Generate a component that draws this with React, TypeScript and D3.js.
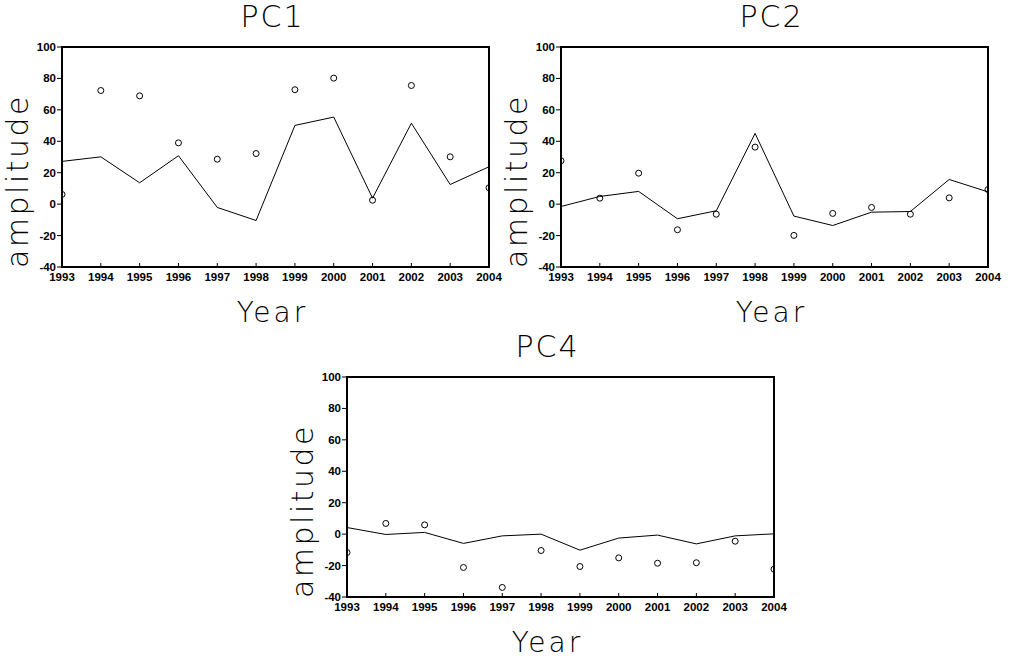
import React from "react";
import * as d3 from "d3";

const years = [1993, 1994, 1995, 1996, 1997, 1998, 1999, 2000, 2001, 2002, 2003, 2004];
const yTicks = [-40, -20, 0, 20, 40, 60, 80, 100];

const pc1Line = [27.2, 30.1, 13.6, 30.8, -2.1, -10.4, 50.1, 55.4, 3.8, 51.5, 12.5, 23.8];
const pc1Dots = [6.2, 72.3, 68.9, 39.0, 28.6, 32.2, 72.8, 80.2, 2.5, 75.5, 30.1, 10.4];

const pc2Line = [-1.5, 4.9, 8.1, -9.3, -4.2, 45.0, -7.6, -13.6, -5.1, -4.7, 15.7, 7.8];
const pc2Dots = [27.6, 3.8, 19.7, -16.3, -6.4, 36.3, -19.9, -5.9, -2.1, -6.4, 4.0, 9.3];

const pc4Line = [4.2, -0.2, 1.1, -5.9, -1.1, 0.0, -10.2, -2.5, -0.6, -6.2, -1.1, 0.2];
const pc4Dots = [-11.7, 6.8, 5.9, -21.2, -33.9, -10.4, -20.6, -15.1, -18.5, -18.2, -4.5, -22.3];

const W = 427;
const H = 220;
const bigFont = "'DejaVu Sans', sans-serif";
const tickFont = "'Liberation Sans', Arial, sans-serif";

const Panel = ({ id, title, line, dots, left, top, titleShift = -3 }) => {
  const x = d3.scaleLinear().domain([1993, 2004]).range([0, W]);
  const y = d3.scaleLinear().domain([-40, 100]).range([H, 0]);
  const path = d3
    .line<number>()
    .x((_, i) => x(years[i]))
    .y((d) => y(d))(line);

  return (
    <g transform={`translate(${left},${top})`}>
      <defs>
        <clipPath id={`clip-${id}`}>
          <rect x={0} y={0} width={W} height={H} />
        </clipPath>
      </defs>
      <text
        x={W / 2 + titleShift}
        y={-20}
        textAnchor="middle"
        fontFamily={bigFont}
        fontWeight={200}
        fontSize={30}
        letterSpacing={2}>
        {title}
      </text>
      {/* y axis label */}
      <text
        transform={`translate(${-34},${134}) rotate(-90)`}
        textAnchor="middle"
        fontFamily={bigFont}
        fontWeight={200}
        fontSize={30}
        letterSpacing={2.5}>
        amplitude
      </text>
      <text
        x={W / 2 + titleShift}
        y={H + 55}
        textAnchor="middle"
        fontFamily={bigFont}
        fontWeight={200}
        fontSize={28}
        letterSpacing={3}>
        Year
      </text>

      {/* series */}
      <path d={path} fill="none" stroke="black" strokeWidth={1} />
      <g clipPath={`url(#clip-${id})`}>
        {dots.map((d, i) => (
          <circle key={i} cx={x(years[i])} cy={y(d)} r={3} fill="none" stroke="black" strokeWidth={1} />
        ))}
      </g>

      {/* y ticks */}
      {yTicks.map((t) => (
        <g key={t}>
          <line x1={-5} x2={0} y1={y(t)} y2={y(t)} stroke="black" strokeWidth={1} />
          <text
            x={-6}
            y={y(t)}
            dy="0.35em"
            textAnchor="end"
            fontFamily={tickFont}
            fontWeight="bold"
            fontSize={11.5}>
            {t}
          </text>
        </g>
      ))}
      {/* x ticks */}
      {years.map((yr) => (
        <g key={yr}>
          <line x1={x(yr)} x2={x(yr)} y1={H} y2={H - 4} stroke="black" strokeWidth={1} />
          <text
            x={x(yr)}
            y={H + 14}
            textAnchor="middle"
            fontFamily={tickFont}
            fontWeight="bold"
            fontSize={11.5}>
            {yr}
          </text>
        </g>
      ))}

      <rect x={0} y={0} width={W} height={H} fill="none" stroke="black" strokeWidth={2} />
    </g>
  );
};

export default function App() {
  return (
    <svg width={1011} height={660} style={{ position: "absolute", left: 0, top: 0, background: "white" }}>
      <Panel id="pc1" title="PC1" line={pc1Line} dots={pc1Dots} left={62} top={47} />
      <Panel id="pc2" title="PC2" line={pc2Line} dots={pc2Dots} left={561} top={47} />
      <Panel id="pc4" title="PC4" line={pc4Line} dots={pc4Dots} left={347} top={377} titleShift={-13} />
    </svg>
  );
}
